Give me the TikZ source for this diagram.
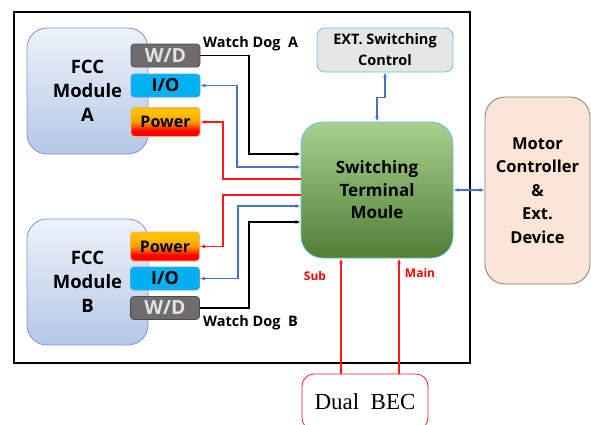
\documentclass[tikz,border=0pt]{standalone}
\usepackage{fontspec}
\setsansfont{Open Sans}
\setmainfont{Liberation Serif}
\usetikzlibrary{arrows.meta}

\definecolor{fccfill}{HTML}{B4C7E7}
\definecolor{fcctop}{HTML}{EEF2FA}
\definecolor{fccline}{HTML}{7A96CC}
\definecolor{wdfill}{HTML}{6E6C6C}
\definecolor{wdtext}{HTML}{E2E2E2}
\definecolor{iofill}{HTML}{00B0F0}
\definecolor{ioline}{HTML}{4BA3E0}
\definecolor{pwtop}{HTML}{FFC000}
\definecolor{pwmid}{HTML}{FF9A00}
\definecolor{pwline}{HTML}{F6B26B}
\definecolor{stmtop}{HTML}{A9D18E}
\definecolor{stmbot}{HTML}{507E33}
\definecolor{cyanline}{HTML}{5BC4EC}
\definecolor{extfill}{HTML}{E7E6E6}
\definecolor{motfill}{HTML}{FBE5D6}
\definecolor{motline}{HTML}{7F7F7F}
\definecolor{linkblue}{HTML}{4472C4}
\definecolor{linkred}{HTML}{FF1A1A}

% yellow-orange to red fill for the power ports
\pgfdeclareverticalshading{powershade}{100bp}{
  color(0bp)=(red); color(35bp)=(red); color(50bp)=(pwmid);
  color(65bp)=(pwtop); color(100bp)=(pwtop)}

\begin{document}
\begin{tikzpicture}[x=1pt,y=-1pt,
  fcc/.style={draw=fccline, line width=0.8pt, rounded corners=20pt,
    top color=fcctop, bottom color=fccfill, minimum width=121pt, minimum height=126pt,
    align=center, font=\sffamily\bfseries\fontsize{18.5}{24}\selectfont, inner sep=0pt},
  port/.style={rounded corners=3.5pt, minimum width=69pt, inner sep=0pt, line width=0.8pt},
  wdbox/.style={port, draw=wdfill!70!black, fill=wdfill, text=wdtext, minimum height=23pt,
    font=\sffamily\bfseries\fontsize{19.5}{20}\selectfont},
  iobox/.style={port, draw=ioline, fill=iofill, minimum height=23pt,
    font=\sffamily\bfseries\fontsize{18}{20}\selectfont},
  pwbox/.style={port, draw=pwline, shading=powershade,
    minimum height=29pt, font=\sffamily\bfseries\fontsize{16}{16}\selectfont},
  tip/.style={-{Latex[length=5pt,width=4pt]}},
  twotip/.style={{Latex[length=5pt,width=4pt]}-{Latex[length=5pt,width=4pt]}},
  tail/.style={{Latex[length=5pt,width=4pt]}-},
  blk/.style={draw=black, line width=1.1pt},
  blu/.style={draw=linkblue, line width=1.1pt},
  rd/.style={draw=linkred, line width=1.1pt},
  note/.style={font=\sffamily\bfseries\fontsize{14.5}{16}\selectfont, inner sep=0pt},
  rednote/.style={font=\sffamily\bfseries\fontsize{12}{14}\selectfont, text=red, inner sep=0pt}
]
\useasboundingbox (0,0) rectangle (591,424);
\clip (0,0) rectangle (591,424);
\fill[white] (0,0) rectangle (591,424);

% outer frame
\draw[line width=1.5pt] (14,12) rectangle (470,363);

% FCC modules
\node[fcc] (fccA) at (87.5,91) {FCC\\Module\\A};
\node[fcc] (fccB) at (87.5,282) {FCC\\Module\\B};

% ports of module A
\node[wdbox] (wdA) at (165.5,55.5) {W/D};
\node[iobox] (ioA) at (165.5,85.5) {I/O};
\node[pwbox] (pwA) at (165.5,122) {Power};

% ports of module B
\node[pwbox] (pwB) at (165,246.5) {Power};
\node[iobox] (ioB) at (165,278.5) {I/O};
\node[wdbox] (wdB) at (165,308) {W/D};

% switching terminal
\node[draw=cyanline, line width=0.8pt, rounded corners=22pt, top color=stmtop, bottom color=stmbot,
  minimum width=152pt, minimum height=136pt, align=center,
  font=\sffamily\bfseries\fontsize{17}{22.5}\selectfont] (stm) at (377,190)
  {Switching\\Terminal\\Moule};

% external switching control
\node[draw=cyanline, line width=0.8pt, rounded corners=8pt, fill=extfill,
  minimum width=136pt, minimum height=44pt, align=center,
  font=\sffamily\bfseries\fontsize{14.5}{21}\selectfont] (ext) at (385,50)
  {EXT. Switching\\Control};

% motor controller
\node[draw=motline, line width=0.8pt, rounded corners=20pt, fill=motfill,
  minimum width=105pt, minimum height=187pt, align=center,
  font=\sffamily\bfseries\fontsize{16.5}{23.5}\selectfont] (mot) at (537.5,190.5)
  {Motor\\Controller\\\&\\Ext.\\Device};

% dual BEC supply
\node[draw=linkred, line width=0.8pt, rounded corners=12pt, fill=white,
  minimum width=126pt, minimum height=56pt,
  font=\rmfamily\fontsize{23}{26}\selectfont] (bec) at (365,402) {Dual\ \ BEC};

% watchdog, I/O and power links
\draw[blk,tip] (wdA.east) -| (249,154) -- (stm.west |- 0,154);
\draw[blu,twotip] (ioA.east) -| (237,167) -- (stm.west |- 0,167);
\draw[rd,tail] (pwA.east) -| (223,179) -- (stm.west |- 0,179);
\draw[rd,tail] (pwB.east) -| (223,195) -- (stm.west |- 0,195);
\draw[blu,twotip] (ioB.east) -| (238,206) -- (stm.west |- 0,206);
\draw[blk,tip] (wdB.east) -| (249,222) -- (stm.west |- 0,222);

\node[note, anchor=west] (wdlA) at (203,44) {Watch Dog\ \ A};
\node[note, anchor=west] (wdlB) at (203,323) {Watch Dog\ \ B};

% control and device links
\draw[blu,twotip] (ext.south) -- ++(0,25) -| (stm.north);
\draw[blu,twotip] (stm.east |- 0,190) -- (mot.west |- 0,190);

% supply lines
\draw[rd,tip] (bec.north -| 341,0) -- (stm.south -| 341,0);
\draw[rd,tip] (bec.north -| 399,0) -- (stm.south -| 399,0);
\node[rednote] (sub) at (315,276) {Sub};
\node[rednote] (main) at (420,273) {Main};
\end{tikzpicture}
\end{document}
